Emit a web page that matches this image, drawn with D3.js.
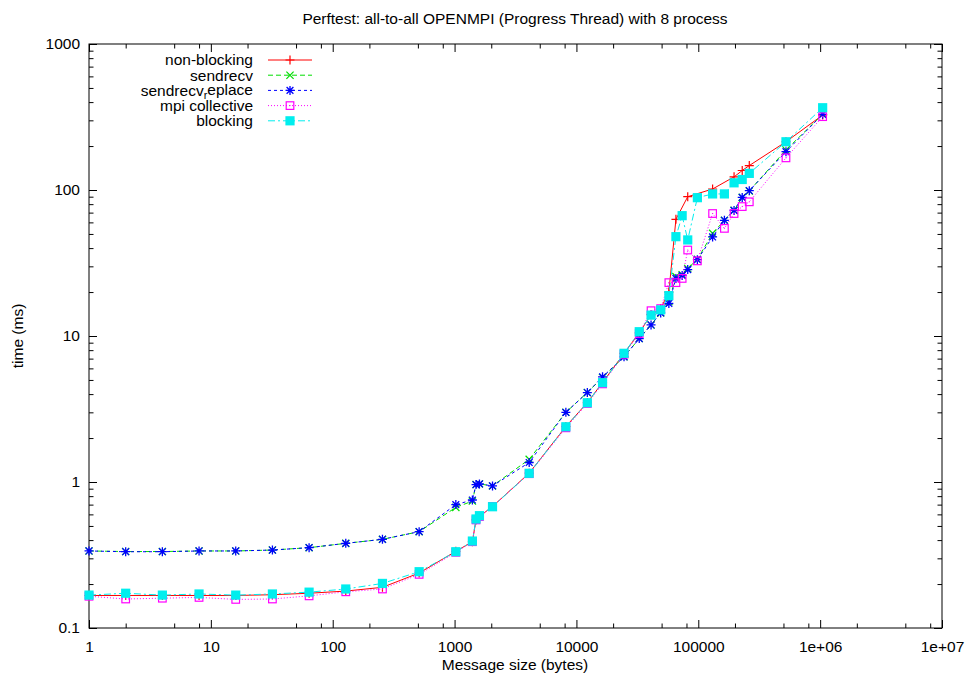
<!DOCTYPE html>
<html>
<head>
<meta charset="utf-8">
<script src="https://cdn.jsdelivr.net/npm/d3@7"></script>
<style>
  html, body { margin: 0; padding: 0; background: #fff; }
  svg { display: block; }
  text { font-family: "Liberation Sans", Arial, Helvetica, sans-serif; fill: #000; }
</style>
</head>
<body>
<svg id="chart" width="965" height="675"></svg>
<script>
// Message sizes (bytes) and measured all-to-all times (ms); null = not measured
const sizes = [1, 2, 4, 8, 16, 32, 64, 128, 256, 512, 1024, 1400, 1500, 1600, 2048, 4096, 8192,
  12288, 16384, 24576, 32768, 40960, 49152, 57344, 65536, 73728, 81920, 98304,
  131072, 163840, 196608, 229376, 262144, 524288, 1048576];

const nonBlocking = [0.167, 0.167, 0.167, 0.167, 0.167, 0.169, 0.173, 0.179, 0.19, 0.238,
  0.335, 0.39, 0.55, 0.58, 0.68, 1.15, 2.4, 3.5, 4.8, 7.6, 10.5, 14.0, 15.4, 20.0,
  63, null, 90, null, 101.6, null, 123, 136, 147, 214, 326];

const sendrecv = [0.337, 0.334, 0.334, 0.337, 0.337, 0.342, 0.355, 0.38, 0.405, 0.457,
  0.67, 0.74, 0.96, 0.97, 0.94, 1.43, 3.0, 4.1, 5.2, 7.2, 9.6, 11.9, 14.4, 17.2,
  25.5, 26.3, 29, 33.5, 50.5, 62, 72.5, 89, 98.5, 188, 330];

const sendrecvReplace = [0.337, 0.333, 0.333, 0.337, 0.337, 0.342, 0.355, 0.38, 0.405, 0.457,
  0.70, 0.753, 0.96, 0.97, 0.94, 1.36, 3.0, 4.1, 5.25, 7.2, 9.6, 11.9, 14.4, 16.7,
  24.8, 26.0, 28.5, 33.3, 47.7, 62, 72.5, 89, 98.9, 183, 330];

const mpiCollective = [0.165, 0.158, 0.160, 0.162, 0.157, 0.158, 0.166, 0.177, 0.185, 0.233,
  0.33, 0.39, 0.55, 0.58, 0.68, 1.14, 2.35, 3.45, 4.7, 7.5, 10.4, 14.9, 15.4, 23.2,
  23.2, 24.8, 38.8, 32.7, 69, 54.6, 69, 77, 83, 166, 318];

const blocking = [0.168, 0.173, 0.168, 0.171, 0.168, 0.171, 0.176, 0.185, 0.202, 0.243,
  0.333, 0.394, 0.558, 0.588, 0.677, 1.147, 2.39, 3.49, 4.79, 7.61, 10.7, 13.9, 15.1, 18.9,
  47.9, 66.7, 45.5, 88.6, 94, 94, 112, 118, 130, 214, 366];

const xTickValues = [1, 10, 100, 1000, 10000, 100000, 1e6, 1e7];
const xTickLabels = ["1", "10", "100", "1000", "10000", "100000", "1e+06", "1e+07"];
const yTickValues = [0.1, 1, 10, 100, 1000];
const yTickLabels = ["0.1", "1", "10", "100", "1000"];

const titleText = "Perftest: all-to-all OPENMPI (Progress Thread) with 8 process";
const xLabelText = "Message size (bytes)";
const yLabelText = "time (ms)";

const series = [
  { name: "non-blocking", values: nonBlocking, color: "#ff0000", dash: null, marker: "plus" },
  { name: "sendrecv", values: sendrecv, color: "#00dd00", dash: "5,3", marker: "cross" },
  { name: ["sendrecv", "r", "eplace"], values: sendrecvReplace, color: "#0000ff", dash: "3,3", marker: "star" },
  { name: "mpi collective", values: mpiCollective, color: "#ff00ff", dash: "1,2", marker: "box" },
  { name: "blocking", values: blocking, color: "#00eeee", dash: "7,3,2,3", marker: "fbox" }
];

const FONT = "15.5px";

const svg = d3.select("#chart");
const plot = { left: 89, right: 942, top: 44, bottom: 628 };

const x = d3.scaleLog().domain([1, 1e7]).range([plot.left, plot.right]);
const y = d3.scaleLog().domain([0.1, 1000]).range([plot.bottom, plot.top]);

// minor tick positions
const xMinor = [];
for (let e = 0; e < 7; e++) [2, 5, 8].forEach(m => xMinor.push(m * Math.pow(10, e)));
const yMinor = [];
for (let e = -1; e < 3; e++) for (let m = 2; m <= 9; m++) yMinor.push(m * Math.pow(10, e));

const MAJ = 8, MIN = 4.5;

function styleAxis(g) {
  g.select(".domain").remove();
  g.selectAll(".tick line").attr("stroke", "#000").attr("stroke-width", 1);
  g.selectAll("text").style("font-size", FONT).attr("fill", "#000");
}

// bottom axis, labelled
svg.append("g").attr("transform", `translate(0,${plot.bottom})`)
  .call(d3.axisBottom(x).tickValues(xTickValues).tickSize(-MAJ).tickPadding(13)
    .tickFormat((d, i) => xTickLabels[i]))
  .call(styleAxis);
svg.append("g").attr("transform", `translate(0,${plot.bottom})`)
  .call(d3.axisBottom(x).tickValues(xMinor).tickSize(-MIN).tickFormat(""))
  .call(styleAxis);
// top mirror
svg.append("g").attr("transform", `translate(0,${plot.top})`)
  .call(d3.axisTop(x).tickValues(xTickValues).tickSize(-MAJ).tickFormat(""))
  .call(styleAxis);
svg.append("g").attr("transform", `translate(0,${plot.top})`)
  .call(d3.axisTop(x).tickValues(xMinor).tickSize(-MIN).tickFormat(""))
  .call(styleAxis);
// left axis, labelled
svg.append("g").attr("transform", `translate(${plot.left},0)`)
  .call(d3.axisLeft(y).tickValues(yTickValues).tickSize(-MAJ).tickPadding(9)
    .tickFormat((d, i) => yTickLabels[i]))
  .call(styleAxis);
svg.append("g").attr("transform", `translate(${plot.left},0)`)
  .call(d3.axisLeft(y).tickValues(yMinor).tickSize(-MIN).tickFormat(""))
  .call(styleAxis);
// right mirror
svg.append("g").attr("transform", `translate(${plot.right},0)`)
  .call(d3.axisRight(y).tickValues(yTickValues).tickSize(-MAJ).tickFormat(""))
  .call(styleAxis);
svg.append("g").attr("transform", `translate(${plot.right},0)`)
  .call(d3.axisRight(y).tickValues(yMinor).tickSize(-MIN).tickFormat(""))
  .call(styleAxis);

// plot border
svg.append("rect")
  .attr("x", plot.left).attr("y", plot.top)
  .attr("width", plot.right - plot.left).attr("height", plot.bottom - plot.top)
  .attr("fill", "none").attr("stroke", "#000").attr("stroke-width", 1);

// marker shapes
function drawMarker(g, type, cx, cy, color) {
  const s = 4.5;
  if (type === "plus") {
    g.append("path").attr("d", `M${cx - s},${cy}H${cx + s}M${cx},${cy - s}V${cy + s}`)
      .attr("stroke", color).attr("stroke-width", 1.2).attr("fill", "none");
  } else if (type === "cross") {
    const c = 3.6;
    g.append("path").attr("d", `M${cx - c},${cy - c}L${cx + c},${cy + c}M${cx - c},${cy + c}L${cx + c},${cy - c}`)
      .attr("stroke", color).attr("stroke-width", 1.2).attr("fill", "none");
  } else if (type === "star") {
    const c = 3.4;
    g.append("path").attr("d", `M${cx - s},${cy}H${cx + s}M${cx},${cy - s}V${cy + s}M${cx - c},${cy - c}L${cx + c},${cy + c}M${cx - c},${cy + c}L${cx + c},${cy - c}`)
      .attr("stroke", color).attr("stroke-width", 1.3).attr("fill", "none");
  } else if (type === "box") {
    g.append("rect").attr("x", cx - 3.8).attr("y", cy - 3.8).attr("width", 7.6).attr("height", 7.6)
      .attr("stroke", color).attr("stroke-width", 1.2).attr("fill", "none");
    g.append("rect").attr("x", cx - 0.5).attr("y", cy - 0.5).attr("width", 1).attr("height", 1)
      .attr("fill", color);
  } else if (type === "fbox") {
    g.append("rect").attr("x", cx - 4.6).attr("y", cy - 4.6).attr("width", 9.2).attr("height", 9.2)
      .attr("fill", color);
  }
}

const line = d3.line().x(d => x(d[0])).y(d => y(d[1]));

series.forEach(s => {
  const pts = sizes.map((sz, i) => [sz, s.values[i]]).filter(d => d[1] != null);
  const g = svg.append("g");
  g.append("path").datum(pts).attr("d", line)
    .attr("fill", "none").attr("stroke", s.color).attr("stroke-width", 1)
    .attr("stroke-dasharray", s.dash);
  pts.forEach(d => drawMarker(g, s.marker, x(d[0]), y(d[1]), s.color));
});

// legend
const legend = svg.append("g");
series.forEach((s, i) => {
  const ly = 60 + i * 15.2;
  const t = legend.append("text").attr("x", 253).attr("y", ly).attr("dy", "0.35em")
    .attr("text-anchor", "end").style("font-size", FONT);
  if (Array.isArray(s.name)) {
    t.append("tspan").text(s.name[0]);
    t.append("tspan").text(s.name[1]).attr("dy", "0.25em").style("font-size", "11px");
    t.append("tspan").text(s.name[2]).attr("dy", "-0.25em").style("font-size", FONT);
  } else {
    t.text(s.name);
  }
  legend.append("line").attr("x1", 268).attr("x2", 312).attr("y1", ly).attr("y2", ly)
    .attr("stroke", s.color).attr("stroke-width", 1).attr("stroke-dasharray", s.dash);
  drawMarker(legend, s.marker, 290, ly, s.color);
});

// title and axis labels
svg.append("text").attr("x", 515).attr("y", 24).attr("text-anchor", "middle")
  .style("font-size", FONT).text(titleText);
svg.append("text").attr("x", 515).attr("y", 670).attr("text-anchor", "middle")
  .style("font-size", FONT).text(xLabelText);
svg.append("text").attr("transform", `translate(23,${(plot.top + plot.bottom) / 2}) rotate(-90)`)
  .attr("text-anchor", "middle").style("font-size", FONT).text(yLabelText);
</script>
</body>
</html>
